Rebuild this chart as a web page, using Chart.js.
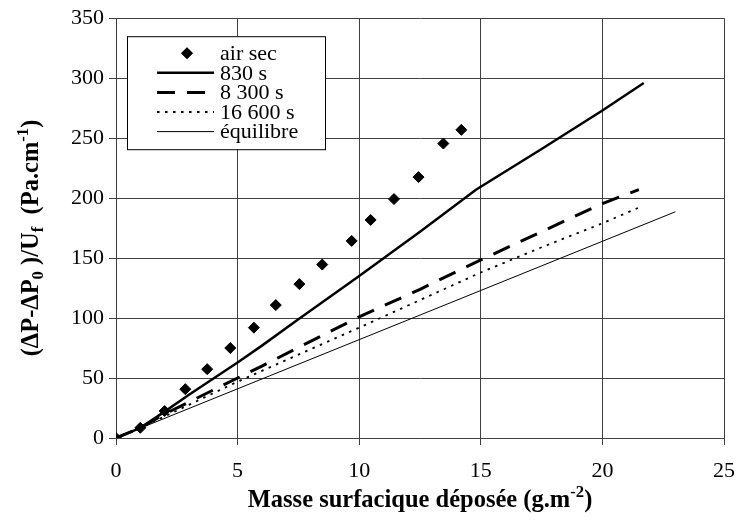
<!DOCTYPE html>
<html>
<head>
<meta charset="utf-8">
<script src="https://cdn.jsdelivr.net/npm/chart.js@4.4.0/dist/chart.umd.min.js"></script>
<style>
  html, body { margin: 0; padding: 0; background: #fff; }
  #wrap { width: 748px; height: 522px; }
</style>
</head>
<body>
<div id="wrap"><canvas id="chart" width="748" height="522"></canvas></div>
<script>
// Data
const airSecX = [0, 1.0, 2.0, 2.85, 3.75, 4.7, 5.67, 6.57, 7.54, 8.48, 9.69, 10.47, 11.43, 12.44, 13.46, 14.2];
const airSecY = [0, 8.5, 22.5, 40.7, 57.4, 75, 92, 110.8, 128.3, 144.6, 164.3, 181.8, 199.2, 217.5, 245.5, 256.9];

const s830X = [0, 1, 2, 3, 5, 6, 7.5, 10, 12.5, 14.8, 17.5, 20, 21.7];
const s830Y = [0, 8.5, 22, 36, 63, 77, 99, 135, 172, 207, 241, 273, 296];

const s8300X = [0, 1, 2, 3, 4, 5, 6, 7.5, 10, 12.5, 15, 17.5, 20, 21.5];
const s8300Y = [0, 8.5, 20, 30, 40, 50, 60, 75.5, 101, 124, 148.5, 172, 195.5, 207];

const s16600X = [0, 1, 2, 5, 10, 12.5, 15, 17.5, 20, 21.6];
const s16600Y = [0, 8.5, 18, 47, 92, 115, 138, 159, 179, 193];

const equilX = [0, 5, 10, 15, 20, 23];
const equilY = [0, 41, 82, 123, 164, 188.6];

const xTicks = [0, 5, 10, 15, 20, 25];
const yTicks = [0, 50, 100, 150, 200, 250, 300, 350];

const legendLabels = ['air sec', '830 s', '8 300 s', '16 600 s', 'équilibre'];

const xTitle = [
    { t: 'Masse surfacique déposée (g.m' },
    { t: '-2', s: 'sup' },
    { t: ')' }
];
const yTitle = [
    { t: '(\u0394P-\u0394P' },
    { t: '0', s: 'sub' },
    { t: ' )/U' },
    { t: 'f', s: 'sub' },
    { t: '  (Pa.cm' },
    { t: '-1', s: 'sup' },
    { t: ')' }
];

const serif = '"Liberation Serif", "Times New Roman", serif';
const gridColor = '#404040';

function toPoints(xs, ys) {
    return xs.map((x, i) => ({ x: x, y: ys[i] }));
}

// Draw a title made of pieces with sub/superscripts, centered on (0,0)
function drawRich(ctx, parts, size) {
    let total = 0;
    parts.forEach((p) => {
        ctx.font = 'bold ' + (p.s ? size * 0.68 : size) + 'px ' + serif;
        p.w = ctx.measureText(p.t).width;
        total += p.w;
    });
    let x = -total / 2;
    ctx.textBaseline = 'alphabetic';
    ctx.textAlign = 'left';
    parts.forEach((p) => {
        ctx.font = 'bold ' + (p.s ? size * 0.68 : size) + 'px ' + serif;
        let dy = 0;
        if (p.s === 'sub') dy = size * 0.22;
        if (p.s === 'sup') dy = -size * 0.4;
        ctx.fillText(p.t, x, dy);
        x += p.w;
    });
}

const axisTitles = {
    id: 'axisTitles',
    afterDraw(chart) {
        const ctx = chart.ctx;
        const area = chart.chartArea;
        ctx.save();
        ctx.fillStyle = '#000';
        ctx.translate((area.left + area.right) / 2, 507);
        drawRich(ctx, xTitle, 24.5);
        ctx.restore();

        ctx.save();
        ctx.fillStyle = '#000';
        ctx.translate(38, 238);
        ctx.rotate(-Math.PI / 2);
        drawRich(ctx, yTitle, 24.5);
        ctx.restore();
    }
};

// Boxed legend inside the plot area
const boxLegend = {
    id: 'boxLegend',
    afterDraw(chart) {
        const ctx = chart.ctx;
        const area = chart.chartArea;
        const left = area.left + 11;
        const top = area.top + 18;
        const w = 198, h = 113;
        ctx.save();
        ctx.fillStyle = '#fff';
        ctx.fillRect(left, top, w, h);
        ctx.strokeStyle = '#000';
        ctx.lineWidth = 1;
        ctx.strokeRect(left + 0.5, top + 0.5, w, h);

        chart.data.datasets.forEach((ds, i) => {
            const y = top + 17 + i * 19.6;
            if (ds.showLine === false) {
                ctx.fillStyle = '#000';
                Chart.helpers.drawPoint(ctx, {
                    pointStyle: 'rectRot', radius: ds.pointRadius, borderWidth: 1
                }, left + 60, y);
                ctx.fill();
            } else {
                ctx.strokeStyle = ds.borderColor;
                ctx.lineWidth = ds.borderWidth;
                ctx.setLineDash(ds.borderDash || []);
                ctx.beginPath();
                ctx.moveTo(left + 30, y);
                ctx.lineTo(left + 87, y);
                ctx.stroke();
                ctx.setLineDash([]);
            }
            ctx.fillStyle = '#000';
            ctx.font = '22px ' + serif;
            ctx.textAlign = 'left';
            ctx.textBaseline = 'middle';
            ctx.fillText(legendLabels[i], left + 93, y + 1);
        });
        ctx.restore();
    }
};

const datasets = [{
    label: legendLabels[0],
    data: toPoints(airSecX, airSecY),
    showLine: false,
    pointStyle: 'rectRot',
    pointRadius: 5.5,
    pointBackgroundColor: '#000',
    pointBorderColor: '#000',
    pointBorderWidth: 1,
    borderColor: '#000'
}, {
    label: legendLabels[1],
    data: toPoints(s830X, s830Y),
    borderColor: '#000',
    borderWidth: 2.5,
    pointRadius: 0,
    tension: 0
}, {
    label: legendLabels[2],
    data: toPoints(s8300X, s8300Y),
    borderColor: '#000',
    borderWidth: 3,
    borderDash: [18, 12],
    pointRadius: 0,
    tension: 0
}, {
    label: legendLabels[3],
    data: toPoints(s16600X, s16600Y),
    borderColor: '#000',
    borderWidth: 1.8,
    borderDash: [2.5, 5.5],
    pointRadius: 0,
    tension: 0
}, {
    label: legendLabels[4],
    data: toPoints(equilX, equilY),
    borderColor: '#000',
    borderWidth: 1,
    pointRadius: 0,
    tension: 0
}];

new Chart(document.getElementById('chart'), {
    type: 'line',
    data: { datasets: datasets },
    options: {
        responsive: false,
        animation: false,
        layout: { padding: { top: 17, right: 13, left: 0, bottom: 0 } },
        scales: {
            x: {
                type: 'linear',
                min: 0,
                max: 25,
                afterBuildTicks: (s) => { s.ticks = xTicks.map((v) => ({ value: v })); },
                afterFit: (s) => { s.height = 522 - 438; },
                ticks: { color: '#000', font: { family: serif, size: 22 }, padding: 13, maxRotation: 0 },
                grid: { color: gridColor, lineWidth: 1, tickLength: 7 },
                border: { color: gridColor }
            },
            y: {
                min: 0,
                max: 350,
                afterBuildTicks: (s) => { s.ticks = yTicks.map((v) => ({ value: v })); },
                afterFit: (s) => { s.width = 116; },
                ticks: { color: '#000', font: { family: serif, size: 22 }, padding: 5 },
                grid: { color: gridColor, lineWidth: 1, tickLength: 7 },
                border: { color: gridColor }
            }
        },
        plugins: {
            legend: { display: false },
            tooltip: { enabled: false }
        }
    },
    plugins: [boxLegend, axisTitles]
});
</script>
</body>
</html>
